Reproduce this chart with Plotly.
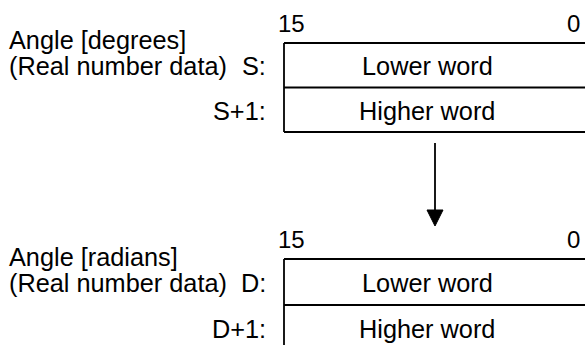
import plotly.graph_objects as go

# ---- diagram content ----
bit_labels = ["15", "0"]
source_title = ["Angle [degrees]", "(Real number data)"]
dest_title = ["Angle [radians]", "(Real number data)"]
source_regs = ["S:", "S+1:"]
dest_regs = ["D:", "D+1:"]
word_labels = ["Lower word", "Higher word"]

W, H = 585, 345
FONT = "Liberation Sans, Arial, sans-serif"
FS = 25.3
FS_BIT = 24

fig = go.Figure()
shapes = []
annotations = []

box_left, box_right = 284, 587
text_cx = 427
LW = 1.8


def add_block(top, row_h, title, regs, title_y):
    rows = [top, top + row_h, top + 2 * row_h]
    for r in rows:
        shapes.append(dict(type="line", x0=box_left, x1=box_right, y0=r, y1=r,
                           line=dict(color="black", width=LW)))
    shapes.append(dict(type="line", x0=box_left, x1=box_left, y0=rows[0], y1=rows[2],
                       line=dict(color="black", width=LW)))
    # bit labels
    annotations.append(dict(x=box_left - 8, y=top - 4, text=bit_labels[0], xanchor="left",
                            yanchor="bottom", showarrow=False, font=dict(size=FS_BIT)))
    annotations.append(dict(x=box_right - 5, y=top - 4, text=bit_labels[1], xanchor="right",
                            yanchor="bottom", showarrow=False, font=dict(size=FS_BIT)))
    for i in range(2):
        cy = (rows[i] + rows[i + 1]) / 2 + 1
        annotations.append(dict(x=text_cx, y=cy, text=word_labels[i], xanchor="center",
                                yanchor="middle", showarrow=False, font=dict(size=FS)))
        annotations.append(dict(x=box_left - 16, y=cy, text=regs[i], xanchor="right",
                                yanchor="middle", showarrow=False, font=dict(size=FS)))
    annotations.append(dict(x=7, y=title_y, text=title[0], xanchor="left",
                            yanchor="middle", showarrow=False, font=dict(size=FS)))
    annotations.append(dict(x=7, y=(rows[0] + rows[1]) / 2 + 1, text=title[1], xanchor="left",
                            yanchor="middle", showarrow=False, font=dict(size=FS)))


add_block(43, 44.5, source_title, source_regs, 40)
add_block(259, 46, dest_title, dest_regs, 257)

# arrow
ax = 435
shapes.append(dict(type="line", x0=ax, x1=ax, y0=143, y1=212, line=dict(color="black", width=LW)))
shapes.append(dict(type="path", path=f"M {ax-8} 210 L {ax+8} 210 L {ax} 226 Z",
                   fillcolor="black", line=dict(color="black", width=1)))

fig.update_layout(
    width=W, height=H,
    margin=dict(l=0, r=0, t=0, b=0),
    paper_bgcolor="white", plot_bgcolor="white",
    font=dict(family=FONT, color="black", size=FS),
    xaxis=dict(range=[0, W], visible=False, fixedrange=True),
    yaxis=dict(range=[H, 0], visible=False, fixedrange=True),
    shapes=shapes, annotations=annotations, showlegend=False,
)

fig.write_html("out.html", config={"displayModeBar": False},
               post_script="document.body.style.margin='0';document.body.style.overflow='hidden';")
